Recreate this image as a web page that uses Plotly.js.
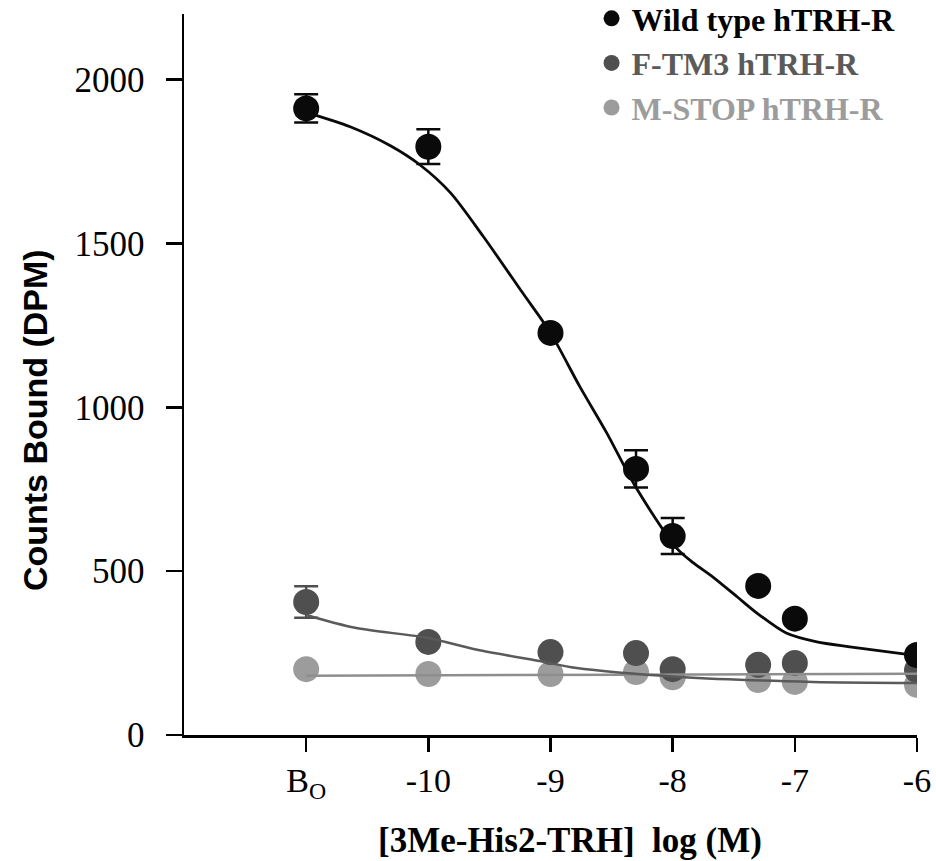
<!DOCTYPE html>
<html>
<head>
<meta charset="utf-8">
<script src="https://cdn.plot.ly/plotly-3.0.1.min.js"></script>
<style>html,body{margin:0;padding:0;background:#fff;}#chart{width:936px;height:861px;}</style>
</head>
<body>
<div id="chart"></div>
<script>
// ---- data ----
const logConc = [-11, -10, -9, -8.3, -8, -7.3, -7, -6];          // -11 = B0 (no ligand)
const tickVals = [-11, -10, -9, -8, -7, -6];
const tickText = ['B<sub>O</sub>', '-10', '-9', '-8', '-7', '-6'];
const yTicks = [0, 500, 1000, 1500, 2000];

const seriesNames = ['Wild type hTRH-R', 'F-TM3 hTRH-R', 'M-STOP hTRH-R'];
const xTitle = '[3Me-His2-TRH]  log (M)';
const yTitle = 'Counts Bound (DPM)';

const wildY   = [1912, 1795, 1227, 812, 607, 455, 355, 244];
const wildErr = [43, 53, 0, 57, 55, 0, 0, 0];
const ftm3Y   = [406, 284, 253, 250, 201, 214, 220, 198];
const ftm3Err = [48, 0, 0, 0, 0, 0, 0, 0];
const mstopY  = [201, 186, 186, 192, 176, 168, 162, 153];

// fitted curves
const wildFitX = [-11, -10.64, -10.31, -10.07, -9.82, -9.55, -9.23, -9.0, -8.76, -8.54, -8.3, -7.97, -7.83, -7.67, -7.47, -7.31, -7.07, -6.82, -6.55, -6];
const wildFitY = [1900, 1856, 1798, 1740, 1655, 1521, 1350, 1227, 1063, 922, 755, 571, 525, 482, 421, 372, 311, 284, 269, 242];
const ftm3FitX = [-11, -10.6, -10, -9.6, -9.05, -8.8, -7.94, -6.85, -6];
const ftm3FitY = [366, 327, 296, 260, 223, 205, 177, 162, 159];
const mstopFitX = [-11, -8.3, -6];
const mstopFitY = [181, 184, 187];

// ---- styles ----
const cBlack = '#0a0a0a', cDark = '#4f4f4f', cLight = '#9c9c9c';
const cDarkLine = '#5a5a5a', cLightLine = '#8e8e8e';
const serif = 'Liberation Serif, Times New Roman, serif';
const sans = 'Liberation Sans, Arial, sans-serif';

function pts(y, color, name, rank, err) {
  const t = {
    x: logConc, y: y, type: 'scatter', mode: 'markers', name: name,
    legendrank: rank, showlegend: true,
    marker: {color: color, size: 26, line: {width: 0}}
  };
  if (err) t.error_y = {type: 'data', array: err, visible: true, color: color, thickness: 2.5, width: 12};
  return t;
}
function fit(x, y, color, w) {
  return {x: x, y: y, type: 'scatter', mode: 'lines', showlegend: false, hoverinfo: 'skip',
    line: {color: color, width: w, shape: 'spline', smoothing: 0.8}};
}

const data = [
  pts(mstopY, cLight, '<span style="color:' + cLight + '">' + seriesNames[2] + '</span>', 3, null),
  pts(ftm3Y, cDark, '<span style="color:' + cDarkLine + '">' + seriesNames[1] + '</span>', 2, ftm3Err),
  pts(wildY, cBlack, '<span style="color:#000">' + seriesNames[0] + '</span>', 1, wildErr),
  fit(mstopFitX, mstopFitY, cLightLine, 2.5),
  fit(ftm3FitX, ftm3FitY, cDarkLine, 2.5),
  fit(wildFitX, wildFitY, cBlack, 2.8)
];

const layout = {
  width: 936, height: 861,
  margin: {l: 184, r: 19, t: 14, b: 126, autoexpand: false},
  paper_bgcolor: '#fff', plot_bgcolor: '#fff',
  showlegend: true,
  legend: {
    xref: 'container', yref: 'paper', x: 0.632, y: 1.0319, xanchor: 'left', yanchor: 'top',
    bgcolor: 'rgba(0,0,0,0)', borderwidth: 0, tracegroupgap: 0, itemsizing: 'trace',
    font: {family: serif, size: 32, weight: 'bold', color: '#000'}
  },
  xaxis: {
    range: [-12, -6], showgrid: false, zeroline: false,
    showline: true, linecolor: '#000', linewidth: 2.5,
    ticks: 'outside', ticklen: 14, tickwidth: 2.5, tickcolor: '#000',
    tickvals: tickVals, ticktext: tickText,
    tickfont: {family: serif, size: 34, color: '#000'}
  },
  yaxis: {
    range: [0, 2200], showgrid: false, zeroline: false,
    showline: true, linecolor: '#000', linewidth: 2.5,
    ticks: 'outside', ticklen: 16, tickwidth: 2.5, tickcolor: '#000',
    tickvals: yTicks, ticktext: yTicks.map(String),
    tickfont: {family: serif, size: 35, color: '#000'},
    ticklabelstandoff: 14
  },
  annotations: [
    {text: xTitle, xref: 'paper', yref: 'paper', x: 0.527, y: -0.147, xanchor: 'center', yanchor: 'middle',
     showarrow: false, font: {family: serif, size: 35, weight: 'bold', color: '#000'}},
    {text: yTitle, xref: 'paper', yref: 'paper', x: -0.203, y: 0.437, xanchor: 'center', yanchor: 'middle',
     textangle: -90, showarrow: false, font: {family: sans, size: 34, weight: 'bold', color: '#000'}}
  ]
};

Plotly.newPlot('chart', data, layout, {displayModeBar: false, staticPlot: true});
</script>
</body>
</html>
